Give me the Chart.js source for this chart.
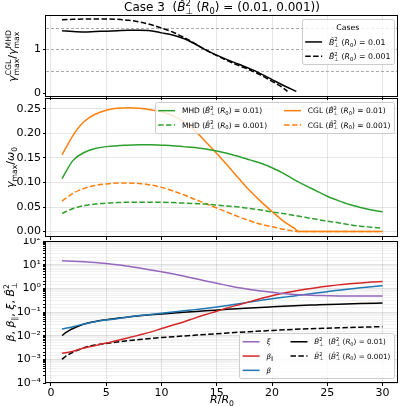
<!DOCTYPE html>
<html>
<head>
<meta charset="utf-8">
<script src="https://cdn.jsdelivr.net/npm/chart.js@4/dist/chart.umd.min.js"></script>
<style>
body { margin: 0; background: #fff; width: 400px; height: 406px; position: relative; overflow: hidden; }
canvas { position: absolute; left: 0; }
</style>
</head>
<body>
<canvas id="c1" width="400" height="100" style="top:0px"></canvas>
<canvas id="c2" width="400" height="145" style="top:96px"></canvas>
<canvas id="c3" width="400" height="168" style="top:238px"></canvas>
<script>
// ---- data ----
var rGrid = [1,2,3,4,5,6,7,8,9,10,11,12,13,14,15,16,17,18,19,20,21,22,23,24,25,26,27,28,29,30];

// top: gamma_max CGL / MHD
var rRatio1 = [1,2,3,4,5,6,7,8,9,10,11,12,13,14,15,16,17,18,19,20,21,22.2];
var ratio1  = [1.43,1.41,1.40,1.41,1.42,1.43,1.44,1.44,1.43,1.38,1.33,1.25,1.13,0.99,0.87,0.76,0.66,0.56,0.44,0.31,0.18,0.04];
var rRatio2 = [1,2,3,4,5,6,7,8,9,10,11,12,13,14,15,16,17,18,19,20,21,21.4];
var ratio2  = [1.68,1.69,1.70,1.70,1.70,1.69,1.67,1.63,1.57,1.49,1.40,1.28,1.14,0.99,0.86,0.74,0.63,0.53,0.41,0.27,0.12,0.04];
var refLines = [0.5, 1, 1.5];
var yTicks1 = [0, 1];

// middle: gamma_max / omega_0
var mhd1 = [0.108,0.145,0.161,0.169,0.173,0.175,0.176,0.177,0.177,0.176,0.175,0.173,0.171,0.168,0.164,0.159,0.153,0.146,0.139,0.130,0.119,0.106,0.094,0.083,0.072,0.063,0.055,0.049,0.044,0.040];
var mhd2 = [0.037,0.047,0.053,0.056,0.058,0.059,0.060,0.060,0.060,0.060,0.059,0.058,0.057,0.056,0.054,0.052,0.050,0.047,0.044,0.040,0.037,0.033,0.029,0.025,0.021,0.018,0.014,0.011,0.009,0.007];
var rCgl1 = [1,2,3,4,5,6,7,8,9,10,11,12,13,14,15,16,17,18,19,20,21,22,22.4,30];
var cgl1  = [0.156,0.196,0.224,0.239,0.247,0.251,0.252,0.251,0.248,0.244,0.236,0.224,0.206,0.183,0.159,0.134,0.108,0.083,0.061,0.041,0.022,0.007,0,0];
var rCgl2 = [1,2,3,4,5,6,7,8,9,10,11,12,13,14,15,16,17,18,19,20,21,22,22.3,30];
var cgl2  = [0.062,0.078,0.088,0.094,0.097,0.099,0.099,0.098,0.095,0.090,0.083,0.075,0.066,0.057,0.048,0.039,0.030,0.022,0.015,0.010,0.005,0.001,0,0];

// bottom: beta, beta_par, xi, B_perp^2
var xi      = [14.5,14.0,13.3,12.4,11.2,9.9,8.5,7.2,6.0,5.0,4.1,3.3,2.6,2.05,1.65,1.3,1.05,0.9,0.78,0.68,0.6,0.55,0.52,0.5,0.49,0.48,0.48,0.48,0.48,0.48];
var betaPar = [0.0018,0.0022,0.0030,0.0038,0.0049,0.0062,0.0081,0.0107,0.0141,0.020,0.0275,0.038,0.055,0.078,0.107,0.151,0.204,0.275,0.37,0.49,0.62,0.76,0.91,1.07,1.23,1.40,1.55,1.70,1.84,1.96];
var beta    = [0.019,0.024,0.031,0.039,0.046,0.052,0.062,0.071,0.079,0.089,0.100,0.112,0.126,0.141,0.162,0.190,0.224,0.263,0.31,0.363,0.417,0.479,0.55,0.63,0.72,0.83,0.93,1.05,1.17,1.29];
var rB      = [1,1.3,1.7,2,3,4,5,6,7,8,9,10,12,14,16,18,20,22,24,26,28,30];
var bPerp1  = [0.0100,0.0130,0.0170,0.0200,0.031,0.040,0.047,0.054,0.062,0.069,0.076,0.083,0.097,0.112,0.130,0.148,0.166,0.185,0.200,0.215,0.228,0.240];
var bPerp2  = [0.00100,0.00130,0.00170,0.00200,0.0031,0.0040,0.0047,0.0054,0.0062,0.0069,0.0076,0.0083,0.0097,0.0112,0.0130,0.0148,0.0166,0.0185,0.0200,0.0215,0.0228,0.0240];

var X_MIN = -0.45, X_MAX = 31.4;
var FONT = '"DejaVu Sans", sans-serif';
var GREEN = '#2ca02c', ORANGE = '#ff7f0e', PURPLE = '#9467bd', RED = '#d62728', BLUE = '#1f77b4';
var DASH = [5.5, 2.4];

// ---- little rich-text helper (italic, stacked sup/sub) ----
function I(t) { return {t: t, it: true}; }
function S(sup, sub) { return {sup: sup, sub: sub}; }
function fnt(it, size) { return (it ? 'italic ' : '') + size + 'px ' + FONT; }
function segW(ctx, p, fs) {
  if (typeof p === 'string') { ctx.font = fnt(false, fs); return ctx.measureText(p).width; }
  if (p.t !== undefined) { ctx.font = fnt(p.it, fs); return ctx.measureText(p.t).width; }
  ctx.font = fnt(false, fs * 0.7);
  return Math.max(ctx.measureText(p.sup || '').width, ctx.measureText(p.sub || '').width);
}
function richW(ctx, parts, fs) {
  var w = 0;
  parts.forEach(function (p) { w += segW(ctx, p, fs); });
  return w;
}
function drawRich(ctx, parts, x, y, fs, align) {
  var w = richW(ctx, parts, fs);
  var cx = align === 'center' ? x - w / 2 : (align === 'right' ? x - w : x);
  var base = y + fs * 0.36;
  ctx.textAlign = 'left';
  ctx.textBaseline = 'alphabetic';
  ctx.fillStyle = '#000';
  parts.forEach(function (p) {
    var sw = segW(ctx, p, fs);
    if (typeof p === 'string') { ctx.font = fnt(false, fs); ctx.fillText(p, cx, base); }
    else if (p.t !== undefined) { ctx.font = fnt(p.it, fs); ctx.fillText(p.t, cx, base); }
    else {
      ctx.font = fnt(false, fs * 0.7);
      if (p.sup) ctx.fillText(p.sup, cx, base - fs * 0.42);
      if (p.sub) ctx.fillText(p.sub, cx, base + fs * 0.24);
    }
    cx += sw;
  });
}
function bperp(val) {
  return [I('B\u0302'), S('2', '\u22A5'), ' (', I('R'), S('', '0'), ') = ' + val];
}

// matplotlib-like legend box (fs drives spacing, ts is the text size)
function drawLegend(ctx, a, L) {
  var fs = L.size, ts = L.text, pad = 0.4 * fs, hl = 2 * fs, hp = 0.8 * fs, cs = 2 * fs;
  var th = 1.18 * fs, pitch = th + 0.5 * fs;
  var rows = Math.ceil(L.items.length / L.cols);
  var cols = [];
  for (var c = 0; c < L.cols; c++) cols.push(L.items.slice(c * rows, (c + 1) * rows));
  var colW = cols.map(function (col) {
    return hl + hp + Math.max.apply(null, col.map(function (it) { return richW(ctx, it.label, ts); }));
  });
  var w = 2 * pad + colW.reduce(function (s, v) { return s + v; }, 0) + cs * (L.cols - 1);
  var titleH = L.title ? pitch : 0;
  var h = 2 * pad + titleH + rows * pitch - 0.5 * fs;
  var x0 = a.right - 0.5 * fs - w;
  var y0 = L.pos === 'tr' ? a.top + 0.5 * fs : a.bottom - 0.5 * fs - h;
  ctx.save();
  ctx.fillStyle = 'rgba(255,255,255,0.8)';
  ctx.strokeStyle = '#cccccc';
  ctx.lineWidth = 1;
  ctx.beginPath();
  ctx.roundRect(Math.round(x0) + 0.5, Math.round(y0) + 0.5, Math.round(w), Math.round(h), 2);
  ctx.fill();
  ctx.stroke();
  if (L.title) drawRich(ctx, [L.title], x0 + w / 2, y0 + pad + th / 2, ts, 'center');
  var cx = x0 + pad;
  cols.forEach(function (col, ci) {
    col.forEach(function (it, ri) {
      var cy = y0 + pad + titleH + ri * pitch + th / 2;
      ctx.strokeStyle = it.color;
      ctx.lineWidth = 1.5;
      ctx.setLineDash(it.dash || []);
      ctx.beginPath();
      ctx.moveTo(cx, cy);
      ctx.lineTo(cx + hl, cy);
      ctx.stroke();
      ctx.setLineDash([]);
      drawRich(ctx, it.label, cx + hl + hp, cy, ts, 'left');
    });
    cx += colW[ci] + cs;
  });
  ctx.restore();
}

function decor(cfg) {
  return {
    id: 'decor',
    beforeDatasetsDraw: function (chart) {
      if (!cfg.refLines) return;
      var ctx = chart.ctx, a = chart.chartArea, ys = chart.scales.y;
      ctx.save();
      ctx.strokeStyle = '#aaaaaa';
      ctx.lineWidth = 1;
      ctx.setLineDash([3, 2]);
      cfg.refLines.forEach(function (v) {
        var py = Math.round(ys.getPixelForValue(v)) + 0.5;
        ctx.beginPath();
        ctx.moveTo(a.left, py);
        ctx.lineTo(a.right, py);
        ctx.stroke();
      });
      ctx.restore();
    },
    afterDatasetsDraw: function (chart) {
      var ctx = chart.ctx, a = chart.chartArea;
      ctx.save();
      ctx.strokeStyle = '#000';
      ctx.lineWidth = 1;
      ctx.strokeRect(Math.round(a.left) - 0.5, Math.round(a.top) + 0.5,
        Math.round(a.right - a.left), Math.round(a.bottom - a.top) - 1);
      if (cfg.legend) drawLegend(ctx, a, cfg.legend);
      if (cfg.title) drawRich(ctx, cfg.title, (a.left + a.right) / 2, 7, 12, 'center');
      if (cfg.ylabel) {
        ctx.save();
        ctx.translate(cfg.ylabel.x, (a.top + a.bottom) / 2);
        ctx.rotate(-Math.PI / 2);
        drawRich(ctx, cfg.ylabel.parts, 0, 0, 11, 'center');
        ctx.restore();
      }
      if (cfg.xlabel) drawRich(ctx, cfg.xlabel.parts, (a.left + a.right) / 2, cfg.xlabel.y, 11, 'center');
      ctx.restore();
    }
  };
}

// ---- chart builders ----
function series(xs, ys, color, dash) {
  return {
    data: xs.map(function (x, i) { return {x: x, y: ys[i]}; }),
    borderColor: color, borderDash: dash || [], borderWidth: 1.5,
    pointRadius: 0, fill: false, cubicInterpolationMode: 'monotone'
  };
}
function fixY(s) { s.width = 46; s.paddingTop = 0; s.paddingBottom = 0; }
function xAxis(show) {
  return {
    type: 'linear', min: X_MIN, max: X_MAX,
    afterFit: function (s) { s.height = show ? 23 : 3; s.paddingLeft = 0; s.paddingRight = 0; },
    ticks: { display: show, stepSize: 5, includeBounds: false, maxRotation: 0, color: '#000', padding: 1, font: {size: 11, family: FONT} },
    grid: { color: 'rgba(0,0,0,0.1)', drawTicks: true, tickLength: 3, tickColor: '#000' },
    border: { display: false }
  };
}
function opts(pad, yScale, showX) {
  return {
    responsive: false, animation: false, devicePixelRatio: 1,
    layout: { padding: pad },
    plugins: { legend: {display: false}, tooltip: {enabled: false}, title: {display: false} },
    scales: { x: xAxis(showX), y: yScale }
  };
}
var supMap = {'-': '\u207B', '0': '\u2070', '1': '\u00B9', '2': '\u00B2', '3': '\u00B3', '4': '\u2074'};
function isPow10(v) { var e = Math.log10(v); return Math.abs(e - Math.round(e)) < 1e-6; }

// top panel
new Chart(document.getElementById('c1'), {
  type: 'line',
  data: { datasets: [
    series(rRatio1, ratio1, '#000'),
    series(rRatio2, ratio2, '#000', DASH)
  ]},
  options: opts({top: 15, right: 2, bottom: 0, left: 0}, {
    min: -0.09, max: 1.79,
    afterFit: fixY,
    afterBuildTicks: function (s) { s.ticks = yTicks1.map(function (v) { return {value: v}; }); },
    ticks: { color: '#000', padding: 2, font: {size: 11, family: FONT} },
    grid: { color: 'rgba(0,0,0,0)', tickColor: '#000', tickLength: 3 },
    border: { display: false }
  }, false),
  plugins: [decor({
    refLines: refLines,
    title: ['Case 3  (', I('B\u0302'), S('2', '\u22A5'), ' (', I('R'), S('', '0'), ') = (0.01, 0.001))'],
    ylabel: { x: 12, parts: [I('\u03B3'), S('CGL', 'max'), '/', I('\u03B3'), S('MHD', 'max')] },
    legend: { pos: 'tr', cols: 1, size: 8.5, text: 7.8, title: 'Cases', items: [
      { label: bperp('0.01'), color: '#000' },
      { label: bperp('0.001'), color: '#000', dash: DASH }
    ]}
  })]
});

// middle panel
new Chart(document.getElementById('c2'), {
  type: 'line',
  data: { datasets: [
    series(rGrid, mhd1, GREEN),
    series(rGrid, mhd2, GREEN, DASH),
    series(rCgl1, cgl1, ORANGE),
    series(rCgl2, cgl2, ORANGE, DASH)
  ]},
  options: opts({top: 2, right: 2, bottom: 1, left: 0}, {
    min: -0.011, max: 0.272,
    afterFit: fixY,
    ticks: { stepSize: 0.05, includeBounds: false, color: '#000', padding: 2, font: {size: 11, family: FONT},
      callback: function (v) { return v.toFixed(2); } },
    grid: { color: 'rgba(0,0,0,0.1)', tickColor: '#000', tickLength: 3 },
    border: { display: false }
  }, false),
  plugins: [decor({
    ylabel: { x: 10, parts: [I('\u03B3'), S('', 'max'), '/', I('\u03C9'), S('', '0')] },
    legend: { pos: 'tr', cols: 2, size: 8.5, text: 7.5, items: [
      { label: ['MHD ('].concat(bperp('0.01'), [')']), color: GREEN },
      { label: ['MHD ('].concat(bperp('0.001'), [')']), color: GREEN, dash: DASH },
      { label: ['CGL ('].concat(bperp('0.01'), [')']), color: ORANGE },
      { label: ['CGL ('].concat(bperp('0.001'), [')']), color: ORANGE, dash: DASH }
    ]}
  })]
});

// bottom panel
new Chart(document.getElementById('c3'), {
  type: 'line',
  data: { datasets: [
    series(rGrid, xi, PURPLE),
    series(rGrid, betaPar, RED),
    series(rGrid, beta, BLUE),
    series(rB, bPerp1, '#000'),
    series(rB, bPerp2, '#000', DASH)
  ]},
  options: opts({top: 3, right: 2, bottom: 0, left: 0}, {
    type: 'logarithmic', min: 1e-4, max: 100,
    afterFit: fixY,
    ticks: { autoSkip: false, color: '#000', padding: 2, font: {size: 11, family: FONT},
      callback: function (v) {
        if (!isPow10(v)) return '';
        return '10' + String(Math.round(Math.log10(v))).split('').map(function (ch) { return supMap[ch]; }).join('');
      } },
    grid: {
      color: function (c) { return c.tick && isPow10(c.tick.value) ? 'rgba(0,0,0,0.12)' : 'rgba(0,0,0,0.05)'; },
      tickColor: '#000', tickLength: 3
    },
    border: { display: false }
  }, true),
  plugins: [decor({
    ylabel: { x: 10, parts: [I('\u03B2'), ', ', I('\u03B2'), S('', '\u2225'), ', ', I('\u03BE'), ', ', I('B\u0302'), S('2', '\u22A5')] },
    xlabel: { y: 161, parts: [I('R'), '/', I('R'), S('', '0')] },
    legend: { pos: 'br', cols: 2, size: 8.5, text: 7.2, items: [
      { label: [I('\u03BE')], color: PURPLE },
      { label: [I('\u03B2'), S('', '\u2225')], color: RED },
      { label: [I('\u03B2')], color: BLUE },
      { label: [I('B\u0302'), S('2', '\u22A5'), '  ('].concat(bperp('0.01'), [')']), color: '#000' },
      { label: [I('B\u0302'), S('2', '\u22A5'), '  ('].concat(bperp('0.001'), [')']), color: '#000', dash: DASH }
    ]}
  })]
});
</script>
</body>
</html>
